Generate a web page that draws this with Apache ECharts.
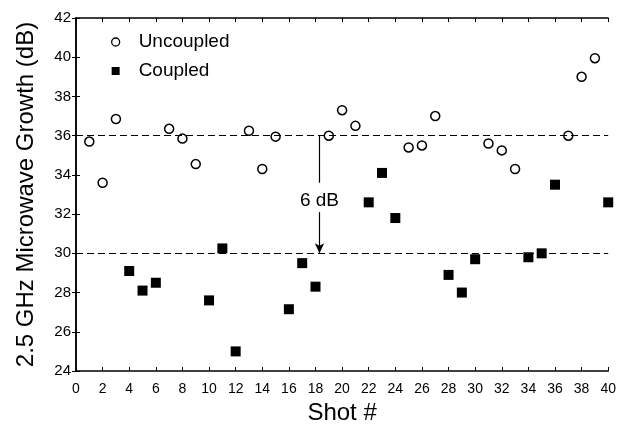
<!DOCTYPE html>
<html>
<head>
<meta charset="utf-8">
<script src="https://cdn.jsdelivr.net/npm/echarts@6/dist/echarts.min.js"></script>
<style>
  html, body { margin: 0; padding: 0; background: #fff; }
  #main { width: 619px; height: 431px; }
</style>
</head>
<body>
<div id="main"></div>
<script>
// shot numbers and growth (dB)
var uncoupledShots = [1, 2, 3, 7, 8, 9, 13, 14, 15, 19, 20, 21, 25, 26, 27, 31, 32, 33, 37, 38, 39];
var uncoupledVals  = [35.7, 33.6, 36.85, 36.35, 35.85, 34.55, 36.25, 34.3, 35.95, 36.0, 37.3, 36.5, 35.4, 35.5, 37.0, 35.6, 35.25, 34.3, 36.0, 39.0, 39.95];
var coupledShots = [4, 5, 6, 10, 11, 12, 16, 17, 18, 22, 23, 24, 28, 29, 30, 34, 35, 36, 40];
var coupledVals  = [29.1, 28.1, 28.5, 27.6, 30.25, 25.0, 27.15, 29.5, 28.3, 32.6, 34.1, 31.8, 28.9, 28.0, 29.7, 29.8, 30.0, 33.5, 32.6];
var refLevels = [36, 30];      // dashed reference lines
var arrowX = 18.3;             // "6 dB" marker position
var arrowTop = [36, 33.6];
var arrowBottom = [32.1, 30];
var labelY = 32.7;

function pairs(xs, ys) {
  var out = [];
  for (var i = 0; i < xs.length; i++) out.push([xs[i], ys[i]]);
  return out;
}

var font = 'Liberation Sans, Arial, sans-serif';
var chart = echarts.init(document.getElementById('main'));

var boxAxis = {
  axisLine: { lineStyle: { color: '#000', width: 1.5 } },
  axisTick: { inside: true, length: 4, lineStyle: { color: '#000' } },
  axisLabel: { show: false }, splitLine: { show: false }
};

var option = {
  animation: false,
  backgroundColor: '#fff',
  textStyle: { fontFamily: font, color: '#000' },
  grid: { left: 76, right: 7, top: 18, bottom: 60 },
  legend: {
    left: 106, top: 27, orient: 'vertical', itemGap: 9,
    itemWidth: 8, itemHeight: 8,
    textStyle: { fontSize: 19, lineHeight: 20, color: '#000', fontFamily: font, padding: [0, 0, 0, 14] },
    data: [
      { name: 'Uncoupled', icon: 'circle', itemStyle: { color: '#fff', borderColor: '#000', borderWidth: 1.3 } },
      { name: 'Coupled', icon: 'rect', itemStyle: { color: '#000' } }
    ]
  },
  xAxis: [{
    type: 'value', min: 0, max: 40, interval: 2,
    name: 'Shot #', nameLocation: 'middle', nameGap: 30,
    nameTextStyle: { fontSize: 24, color: '#000', fontFamily: font },
    axisLine: { lineStyle: { color: '#000', width: 1.5 } },
    axisTick: { inside: true, length: 4, lineStyle: { color: '#000' } },
    axisLabel: { fontSize: 14, color: '#000', margin: 11 },
    splitLine: { show: false }
  }, Object.assign({ type: 'value', min: 0, max: 40, interval: 2, position: 'top' }, boxAxis)],
  yAxis: [{
    type: 'value', min: 24, max: 42, interval: 2,
    name: '2.5 GHz Microwave Growth (dB)', nameLocation: 'middle', nameGap: 38,
    nameTextStyle: { fontSize: 24, color: '#000', fontFamily: font },
    axisLine: { lineStyle: { color: '#000', width: 1.5 } },
    axisTick: { inside: true, length: 4, lineStyle: { color: '#000' } },
    axisLabel: { fontSize: 15, color: '#000', margin: 5 },
    splitLine: { show: false }
  }, Object.assign({ type: 'value', min: 24, max: 42, interval: 2, position: 'right' }, boxAxis)],
  series: [{
    name: 'Uncoupled', type: 'scatter', symbol: 'circle', symbolSize: 9,
    itemStyle: { color: '#fff', borderColor: '#000', borderWidth: 1.5, opacity: 1 },
    data: pairs(uncoupledShots, uncoupledVals),
    z: 3
  }, {
    name: 'Coupled', type: 'scatter', symbol: 'rect', symbolSize: 10,
    itemStyle: { color: '#000', opacity: 1 },
    data: pairs(coupledShots, coupledVals),
    z: 3,
    markLine: {
      silent: true, symbol: 'none',
      lineStyle: { color: '#000', type: [7, 4], width: 1.2 },
      label: { show: false },
      data: refLevels.map(function (v) { return [{ coord: [0, v] }, { coord: [40, v] }]; })
    }
  }, {
    name: 'arrow', type: 'scatter', data: [], silent: true,
    markLine: {
      silent: true, animation: false,
      lineStyle: { color: '#000', type: 'solid', width: 1.2 },
      label: { show: false },
      data: [
        [{ coord: [arrowX, arrowTop[0]], symbol: 'none' }, { coord: [arrowX, arrowTop[1]], symbol: 'none' }],
        [{ coord: [arrowX, arrowBottom[0]], symbol: 'none' }, { coord: [arrowX, arrowBottom[1]], symbol: 'arrow', symbolSize: [7, 10] }]
      ]
    },
    markPoint: {
      silent: true, symbol: 'circle', symbolSize: 0,
      label: { show: true, formatter: '6 dB', fontSize: 19, color: '#000', fontFamily: font, position: 'inside' },
      data: [{ coord: [arrowX, labelY] }]
    }
  }]
};

chart.setOption(option);
</script>
</body>
</html>
